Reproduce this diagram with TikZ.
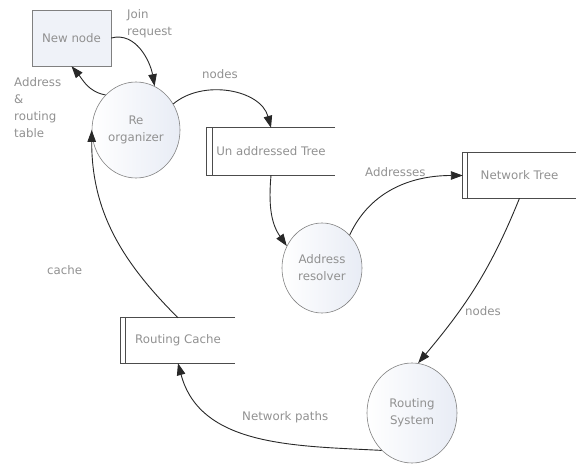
\documentclass[tikz,border=0pt]{standalone}
\usepackage{fontspec}
\setmainfont{DejaVu Sans}
\usepackage{tikz}
\usetikzlibrary{arrows.meta}
\usetikzlibrary{shapes.geometric, positioning}
\definecolor{txtgray}{RGB}{145,145,145}
\definecolor{linegray}{RGB}{40,40,40}
\definecolor{bubble}{RGB}{232,236,245}
\tikzstyle{arrow} = [draw=linegray, line width=0.9pt, -{Triangle[length=12pt,width=8.5pt]}]
\tikzstyle{process} = [ellipse, draw=gray, line width=0.6pt, left color=white, right color=bubble, text=txtgray, align=center, inner sep=0pt]
\tikzstyle{store} = [rectangle, text=txtgray, inner sep=0pt]
\tikzstyle{storeline} = [draw=black!70, line width=1.3pt]
\tikzstyle{lbl} = [text=txtgray, align=left, inner sep=0pt]

\begin{document}
\begin{tikzpicture}[x=1pt, y=1pt, font=\fontsize{11.8}{17}\selectfont]
\useasboundingbox (0,0) rectangle (576,-468);

\node [rectangle, draw=gray, fill=bubble!70!white, text=txtgray, minimum width=79pt, minimum height=56pt] (newnode) at (71.5,-38) {New node};
\node [process, minimum width=88pt, minimum height=96pt] (reorg) at (136,-130) {Re\\organizer};
\node [process, minimum width=80pt, minimum height=90pt] (resolver) at (322,-268) {Address\\resolver};
\node [process, minimum width=90pt, minimum height=100pt] (routing) at (412,-413) {Routing\\System};

\node [store, minimum width=128pt, minimum height=47pt] (untree) at (271,-151.5) {Un addressed Tree};
\node [store, minimum width=113pt, minimum height=45pt] (nettree) at (519.5,-175.5) {Network Tree};
\node [store, minimum width=114pt, minimum height=45pt] (rcache) at (178,-340.5) {Routing Cache};

\draw [storeline] (untree.north east) -- (untree.north west) -- (untree.south west) -- (untree.south east);
\draw [storeline] ([xshift=6pt]untree.north west) -- ([xshift=6pt]untree.south west);
\draw [storeline] (nettree.north east) -- (nettree.north west) -- (nettree.south west) -- (nettree.south east);
\draw [storeline] ([xshift=5pt]nettree.north west) -- ([xshift=5pt]nettree.south west);
\draw [storeline] (rcache.north east) -- (rcache.north west) -- (rcache.south west) -- (rcache.south east);
\draw [storeline] ([xshift=5pt]rcache.north west) -- ([xshift=5pt]rcache.south west);

\draw [arrow] (newnode.east) to[out=15, in=100] (reorg.67);
\draw [arrow] (reorg.131) to[out=170, in=-50] (newnode.south);
\draw [arrow] (reorg.35) to[out=40, in=105] (untree.north);
\draw [arrow] (untree.south) to[out=-95, in=125] (resolver.148);
\draw [arrow] (resolver.50) to[out=65, in=180] (nettree.west);
\draw [arrow] (nettree.south) to[out=-112, in=50] (routing.83);
\draw [arrow] (routing.231) to[out=177, in=-75] (rcache.south);
\draw [arrow] (rcache.north) to[out=135, in=-90] (reorg.west);

\node [lbl, anchor=west] (ljoin) at (127,-24) {Join\\request};
\node [lbl, anchor=west] (laddress) at (14,-108) {Address\\\&\\routing\\table};
\node [lbl, anchor=west] (lnodesa) at (202,-74) {nodes};
\node [lbl, anchor=west] (laddresses) at (365,-172) {Addresses};
\node [lbl, anchor=west] (lnodesb) at (465,-311) {nodes};
\node [lbl, anchor=west] (lpaths) at (242,-417) {Network paths};
\node [lbl, anchor=west] (lcache) at (47,-270) {cache};
\end{tikzpicture}
\end{document}
